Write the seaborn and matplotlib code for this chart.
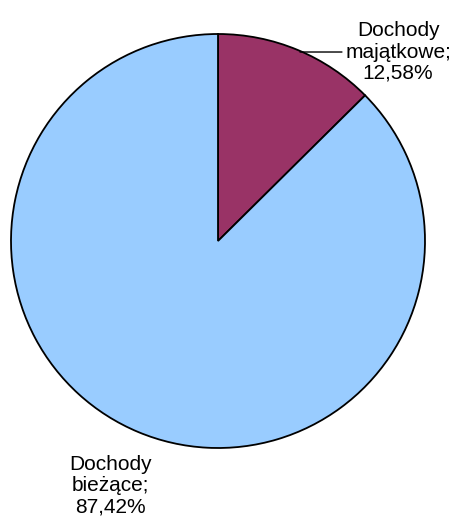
import matplotlib
matplotlib.use("Agg")
import matplotlib.pyplot as plt
import seaborn as sns

# dane
kategorie = ['Dochody\nmajątkowe', 'Dochody\nbieżące']
udzialy = [12.58, 87.42]
kolory = ['#993366', '#99CCFF']

sns.set_style('white')
plt.rcParams['font.family'] = ['Liberation Sans', 'DejaVu Sans']

fig = plt.figure(figsize=(4.52, 5.2), dpi=100)
# pie: srodek (218,241) px, promien 207 px
ax = fig.add_axes([(218 - 207) / 452, (520 - 448) / 520, 414 / 452, 414 / 520])
ax.pie(udzialy, colors=kolory, startangle=90, counterclock=False, radius=1,
       wedgeprops=dict(edgecolor='black', linewidth=1.3))
ax.set_xlim(-1, 1)
ax.set_ylim(-1, 1)
ax.set_aspect('equal')
ax.axis('off')

def etykieta(i):
    return '%s;\n%s%%' % (kategorie[i], ('%.2f' % udzialy[i]).replace('.', ','))

ax.annotate(etykieta(0), xy=(0.396, 0.913), xytext=(0.87, 0.913),
            ha='center', va='center', fontsize=15, linespacing=1.15, color='black',
            arrowprops=dict(arrowstyle='-', color='black', lw=1,
                            shrinkA=0, shrinkB=0, relpos=(0, 0.5)),
            annotation_clip=False)
ax.text(-0.52, -1.18, etykieta(1), ha='center', va='center', fontsize=15,
        linespacing=1.15, color='black', clip_on=False)

plt.savefig('out.png', dpi=100)
